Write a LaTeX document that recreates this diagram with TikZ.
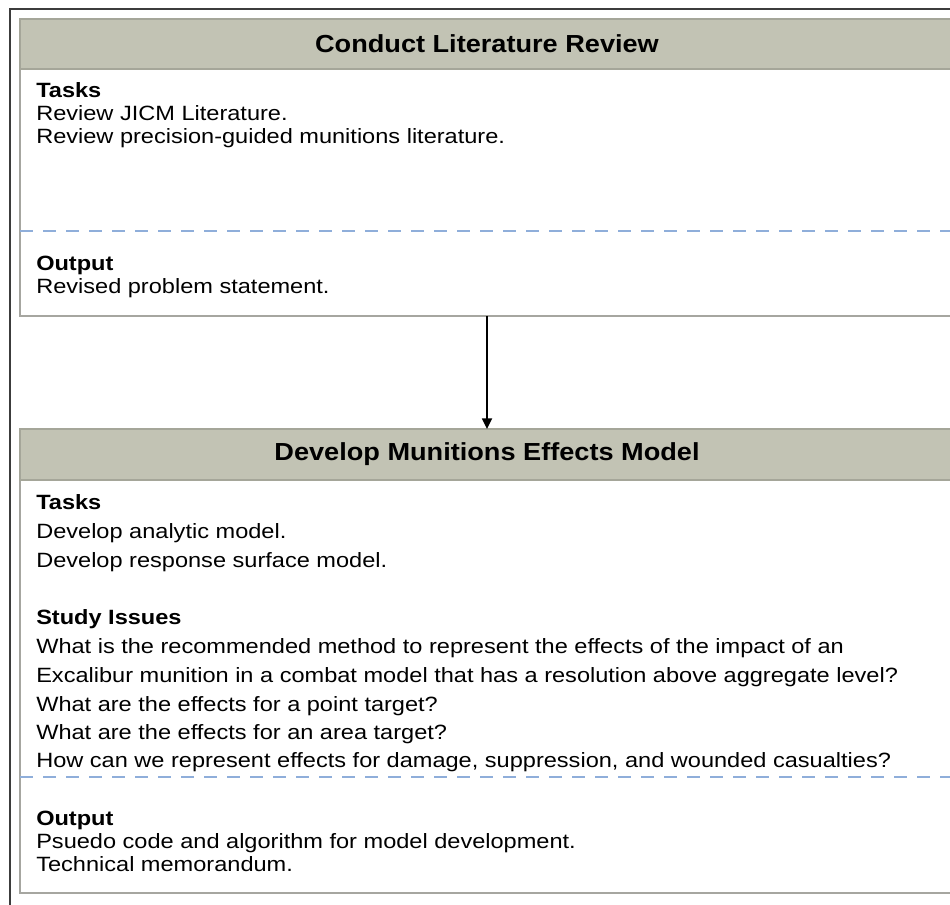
\documentclass[tikz,border=0pt]{standalone}
\usepackage{fontspec}
\setmainfont{Liberation Sans}[FakeStretch=1.14]
\newfontfamily\hdrfont{Liberation Sans}[FakeStretch=1.1]
\usetikzlibrary{arrows.meta}
\definecolor{hdrgray}{RGB}{194,195,180}
\definecolor{boxline}{RGB}{166,166,160}
\definecolor{dashblue}{RGB}{143,174,218}
\definecolor{framegray}{RGB}{60,60,60}
\tikzset{
  hdrbox/.style={fill=hdrgray,draw=hdrgray!85!black,line width=0.8pt},
  bodybox/.style={fill=white,draw=boxline,line width=1.2pt},
  sepline/.style={draw=dashblue,line width=1.6pt,dash pattern=on 9.75pt off 7.5pt},
  hdrtext/.style={font=\hdrfont\fontsize{18.5pt}{22pt}\selectfont\bfseries,inner sep=0pt},
  bodytext/.style={font=\fontsize{15.5pt}{17pt}\selectfont,anchor=base west,inner sep=0pt},
  headtext/.style={bodytext,font=\fontsize{15.5pt}{17pt}\selectfont\bfseries},
}
\begin{document}
\begin{tikzpicture}[x=0.75pt,y=-0.75pt,line cap=butt,line join=miter]
  \clip (0,0) rectangle (950,905);
  \fill[white] (0,0) rectangle (950,905);
  % outer frame
  \draw[framegray,line width=1.1pt] (10,910) -- (10,9) -- (960,9);
  % first step
  \draw[bodybox] (20,69) rectangle (954,316);
  \filldraw[hdrbox] (20,19) rectangle (954,69);
  \node[hdrtext] (revtitle) at (487,44) {Conduct Literature Review};
  \draw[sepline] (20,231) -- (954,231);
  \node[headtext] (revtasks) at (36,98) {Tasks};
  \foreach \y/\t [count=\i] in {121/{Review JICM Literature.},
      144/{Review precision-guided munitions literature.}}
    \node[bodytext] (revtask\i) at (36,\y) {\t};
  \node[headtext] (revout) at (36,271) {Output};
  \node[bodytext] (revout1) at (36,294) {Revised problem statement.};
  % second step
  \draw[bodybox] (20,480) rectangle (954,893);
  \filldraw[hdrbox] (20,429) rectangle (954,480);
  \node[hdrtext] (modtitle) at (487,454) {Develop Munitions Effects Model};
  \draw[sepline] (20,777) -- (954,777);
  \node[headtext] (modtasks) at (36,509) {Tasks};
  \foreach \y/\t [count=\i] in {538/{Develop analytic model.},
      567/{Develop response surface model.}}
    \node[bodytext] (modtask\i) at (36,\y) {\t};
  \node[headtext] (modissues) at (36,624) {Study Issues};
  \foreach \y/\t [count=\i] in {653/{What is the recommended method to represent the effects of the impact of an},
      682/{Excalibur munition in a combat model that has a resolution above aggregate level?},
      711/{What are the effects for a point target?},
      739/{What are the effects for an area target?},
      767/{How can we represent effects for damage, suppression, and wounded casualties?}}
    \node[bodytext] (modissue\i) at (36,\y) {\t};
  \node[headtext] (modout) at (36,825) {Output};
  \foreach \y/\t [count=\i] in {848/{Psuedo code and algorithm for model development.},
      871/{Technical memorandum.}}
    \node[bodytext] (modout\i) at (36,\y) {\t};
  % link
  \coordinate (revbot) at (487,316);
  \coordinate (modtop) at (487,429);
  \draw[line width=1.3pt,-{Triangle[width=7.5pt,length=8pt]}] (revbot) -- (modtop);
\end{tikzpicture}
\end{document}
